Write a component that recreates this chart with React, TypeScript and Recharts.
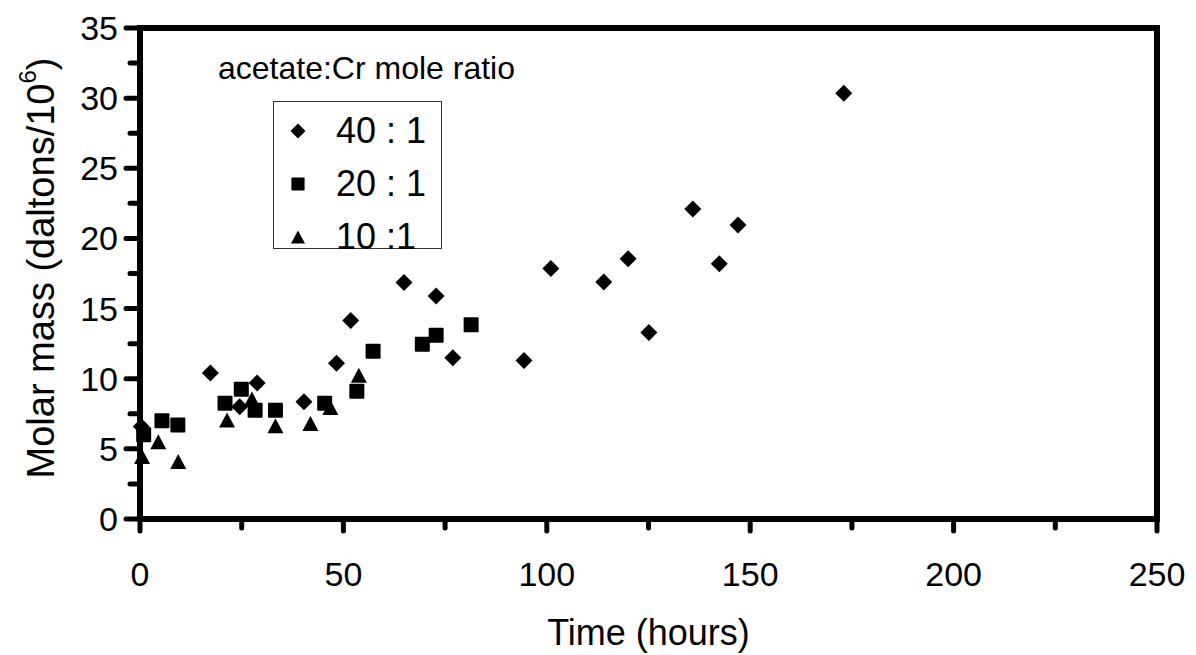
import React from "react";
import { ScatterChart, Scatter, XAxis, YAxis, ReferenceLine, Legend } from "recharts";

const FONT = "'Liberation Sans', Arial, sans-serif";

// acetate:Cr 40:1
const TIME_40 = [0.3, 17.3, 24.5, 28.8, 40.3, 48.3, 51.8, 64.9, 72.8, 76.9, 94.4, 101, 114, 120, 125.1, 135.9, 142.4, 147, 173];
const MASS_40 = [6.6, 10.4, 8.0, 9.7, 8.35, 11.1, 14.15, 16.85, 15.9, 11.5, 11.3, 17.85, 16.9, 18.55, 13.3, 22.1, 18.2, 20.95, 30.35];

// 20:1
const TIME_20 = [0.9, 5.4, 9.3, 20.9, 24.9, 28.3, 33.3, 45.4, 53.3, 57.3, 69.4, 72.8, 81.4];
const MASS_20 = [6.0, 7.0, 6.7, 8.25, 9.25, 7.75, 7.75, 8.25, 9.1, 11.95, 12.45, 13.1, 13.85];

// 10:1
const TIME_10 = [0.5, 4.5, 9.4, 21.4, 27.5, 33.3, 41.9, 46.8, 53.8];
const MASS_10 = [4.45, 5.5, 4.1, 7.05, 8.55, 6.65, 6.8, 7.95, 10.25];

const X_TICKS = [0, 25, 50, 75, 100, 125, 150, 175, 200, 225, 250];
const Y_TICKS = [0, 2.5, 5, 7.5, 10, 12.5, 15, 17.5, 20, 22.5, 25, 27.5, 30, 32.5, 35];

const toPoints = (t: number[], m: number[]) => t.map((time, i) => ({ time, mass: m[i] }));

type Kind = "diamond" | "square" | "triangle";

const SERIES: { name: string; kind: Kind; data: { time: number; mass: number }[] }[] = [
  { name: "40 : 1", kind: "diamond", data: toPoints(TIME_40, MASS_40) },
  { name: "20 : 1", kind: "square", data: toPoints(TIME_20, MASS_20) },
  { name: "10 :1", kind: "triangle", data: toPoints(TIME_10, MASS_10) },
];

function Marker({ kind, cx, cy, s = 1 }: { kind: Kind; cx: number; cy: number; s?: number }) {
  if (kind === "diamond") {
    const r = 8.5 * s;
    return <polygon points={`${cx},${cy - r} ${cx + r},${cy} ${cx},${cy + r} ${cx - r},${cy}`} fill="#000" />;
  }
  if (kind === "square") {
    const h = 7.5 * s;
    return <rect x={cx - h} y={cy - h} width={2 * h} height={2 * h} rx={1} fill="#000" />;
  }
  const w = 8 * s;
  const h = 7.5 * s;
  return <polygon points={`${cx},${cy - h} ${cx + w},${cy + h} ${cx - w},${cy + h}`} fill="#000" />;
}

const XTick = (props: any) => {
  const { x, y, payload } = props;
  const major = payload.value % 50 === 0;
  return (
    <g>
      <line x1={x} x2={x} y1={y} y2={y + (major ? 12 : 9)} stroke="#000" strokeWidth={5} strokeLinecap="round" />
      {major && (
        <text x={x} y={y + 67} textAnchor="middle" fontSize={34} fontFamily={FONT} fill="#000">
          {payload.value}
        </text>
      )}
    </g>
  );
};

const YTick = (props: any) => {
  const { x, y, payload } = props;
  const major = payload.value % 5 === 0;
  return (
    <g>
      <line x1={x} x2={x - (major ? 14 : 10)} y1={y} y2={y} stroke="#000" strokeWidth={5} strokeLinecap="round" />
      {major && (
        <text x={x - 22} y={y + 12} textAnchor="end" fontSize={34} fontFamily={FONT} fill="#000">
          {payload.value}
        </text>
      )}
    </g>
  );
};

const LegendBox = () => (
  <div style={{ position: "relative", width: 240, height: 215, fontFamily: FONT, color: "#000" }}>
    <div style={{ position: "absolute", left: 0, top: 9, fontSize: 32, whiteSpace: "nowrap", lineHeight: "38px" }}>
      acetate:Cr mole ratio
    </div>
    <div
      style={{
        position: "absolute",
        left: 55,
        top: 61,
        width: 169,
        height: 148,
        border: "1.5px solid #333",
        boxSizing: "border-box",
      }}
    >
      {SERIES.map((s, i) => (
        <div key={s.name} style={{ position: "absolute", left: 0, top: 7 + i * 53, height: 44, width: 165 }}>
          <svg width={40} height={44} style={{ position: "absolute", left: 4, top: 0 }}>
            <Marker kind={s.kind} cx={20} cy={22} s={0.88} />
          </svg>
          <span style={{ position: "absolute", left: 62, top: 3, fontSize: 36, lineHeight: "38px", whiteSpace: "nowrap" }}>
            {s.name}
          </span>
        </div>
      ))}
    </div>
  </div>
);

export default function App() {
  return (
    <div style={{ position: "absolute", left: 0, top: 0, background: "#fff" }}>
      <ScatterChart width={1196} height={655} margin={{ top: 28, right: 39, bottom: 0, left: 0 }}>
        <XAxis
          type="number"
          dataKey="time"
          domain={[0, 250]}
          ticks={X_TICKS}
          interval={0}
          height={136}
          tickSize={0}
          tickMargin={0}
          tickLine={false}
          tick={<XTick />}
          axisLine={{ stroke: "#000", strokeWidth: 6 }}
          label={(p: any) => {
            const vb = p.viewBox;
            return (
              <text x={vb.x + vb.width / 2} y={645} textAnchor="middle" fontSize={36} fontFamily={FONT} fill="#000">
                Time (hours)
              </text>
            );
          }}
        />
        <YAxis
          type="number"
          dataKey="mass"
          domain={[0, 35]}
          ticks={Y_TICKS}
          interval={0}
          width={140}
          tickSize={0}
          tickMargin={0}
          tickLine={false}
          tick={<YTick />}
          axisLine={{ stroke: "#000", strokeWidth: 6 }}
          label={(p: any) => {
            const vb = p.viewBox;
            const cy = 268;
            return (
              <text
                x={41}
                y={cy}
                transform={`rotate(-90, 41, ${cy})`}
                textAnchor="middle"
                dominantBaseline="central"
                fontSize={38}
                fontFamily={FONT}
                fill="#000"
              >
                Molar mass (daltons/10<tspan fontSize={24} dy={-14}>6</tspan>
                <tspan dy={14}>)</tspan>
              </text>
            );
          }}
        />
        <ReferenceLine y={35} stroke="#000" strokeWidth={6} strokeLinecap="square" />
        <ReferenceLine x={250} stroke="#000" strokeWidth={6} strokeLinecap="square" />
        <Legend
          layout="vertical"
          align="center"
          verticalAlign="middle"
          wrapperStyle={{ left: 218, top: 40, width: 250 }}
          content={() => <LegendBox />}
        />
        {SERIES.map((s) => (
          <Scatter
            key={s.name}
            name={s.name}
            data={s.data}
            fill="#000"
            isAnimationActive={false}
            shape={(p: any) => <Marker kind={s.kind} cx={p.cx} cy={p.cy} />}
          />
        ))}
      </ScatterChart>
    </div>
  );
}
